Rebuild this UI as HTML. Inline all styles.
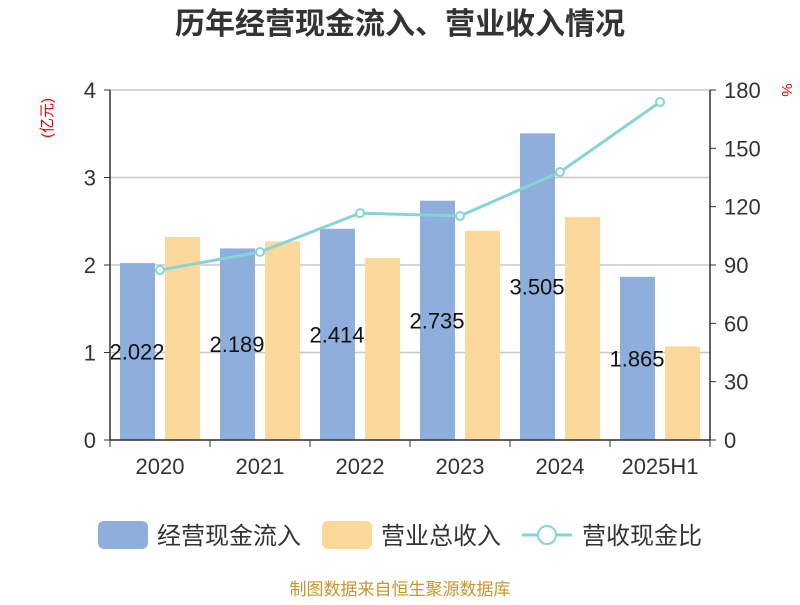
<!DOCTYPE html>
<html><head><meta charset="utf-8"><style>
body{margin:0;background:#fff;}
svg text{font-family:"Liberation Sans","Noto Sans CJK SC",sans-serif;}
</style></head><body>
<svg id="chart" width="800" height="600" xmlns="http://www.w3.org/2000/svg">
<text x="400" y="34" text-anchor="middle" font-size="30" font-weight="bold" fill="#333">历年经营现金流入、营业收入情况</text>
<text transform="translate(52,118) rotate(-90)" text-anchor="middle" font-size="15" fill="#e00">(亿元)</text>
<text transform="translate(782,90) rotate(90)" text-anchor="middle" font-size="15" fill="#e00">%</text>
<g id="grid"></g><g id="bars"></g><g id="line"></g><g id="axes"></g>
<g>
<rect x="98" y="521" width="50" height="28" rx="6" fill="#8eaedb"/>
<text x="157" y="544" font-size="24" fill="#333">经营现金流入</text>
<rect x="322" y="521" width="50" height="28" rx="6" fill="#fdd89b"/>
<text x="381" y="544" font-size="24" fill="#333">营业总收入</text>
<line x1="522" y1="535" x2="572" y2="535" stroke="#86d4d6" stroke-width="3"/>
<circle cx="547" cy="535" r="9" fill="#fff" stroke="#86d4d6" stroke-width="2"/>
<text x="582" y="544" font-size="24" fill="#333">营收现金比</text>
</g>
<text x="400" y="595" text-anchor="middle" font-size="17" fill="#c8962a">制图数据来自恒生聚源数据库</text>
</svg>
<script>
const categories=["2020","2021","2022","2023","2024","2025H1"];
const cashValues=[2.022,2.189,2.414,2.735,3.505,1.865];
const revenueValues=[2.32,2.27,2.08,2.39,2.55,1.07];
const ratioValues=[87.4,96.7,116.7,115.2,137.8,173.8];
const leftTicks=[0,1,2,3,4];
const rightTicks=[0,30,60,90,120,150,180];
const NS="http://www.w3.org/2000/svg";
const X0=110,X1=710,Y0=440,Y1=90;
const band=(X1-X0)/categories.length;
const yL=v=>Y0-(v/4)*(Y0-Y1);
const yR=v=>Y0-(v/180)*(Y0-Y1);
function mk(p,tag,at,txt){const e=document.createElementNS(NS,tag);for(const k in at)e.setAttribute(k,at[k]);if(txt!=null)e.textContent=txt;document.getElementById(p).appendChild(e);return e;}
leftTicks.forEach(t=>{
 const g=mk("grid","line",{x1:X0,x2:X1,y1:yL(t),y2:yL(t),stroke:"#c8c8c8","stroke-width":1.5});
 
 
 const l=mk("axes","text",{x:X0-14,y:yL(t)+8,"text-anchor":"end","font-size":22,fill:"#333"},t);
 
 
 const tk=mk("axes","line",{x1:X0-6,x2:X0,y1:yL(t),y2:yL(t),stroke:"#333"});
 
 
});
rightTicks.forEach(t=>{
 const l=mk("axes","text",{x:X1+14,y:yR(t)+8,"font-size":22,fill:"#333"},t);
 
 
 const tk=mk("axes","line",{x1:X1,x2:X1+6,y1:yR(t),y2:yR(t),stroke:"#333"});
 
 
});
categories.forEach((c,i)=>{
 const bx=X0+i*band;
 const b1=mk("bars","rect",{x:bx+10,y:yL(cashValues[i]),width:35,height:Y0-yL(cashValues[i]),fill:"#8eaedb"});
 
 
 const b2=mk("bars","rect",{x:bx+55,y:yL(revenueValues[i]),width:35,height:Y0-yL(revenueValues[i]),fill:"#fdd89b"});
 
 
 const v=mk("bars","text",{x:bx+27,y:(yL(cashValues[i])+Y0)/2+8,"text-anchor":"middle","font-size":22,fill:"#111"},cashValues[i].toFixed(3));
 
 
 const l=mk("axes","text",{x:bx+band/2,y:Y0+34,"text-anchor":"middle","font-size":22,fill:"#333"},c);
 
 
});
for(let i=0;i<=categories.length;i++){
 const tk=mk("axes","line",{x1:X0+i*band,x2:X0+i*band,y1:Y0,y2:Y0+7,stroke:"#333"});
 
 
}
const pts=ratioValues.map((v,i)=>[X0+i*band+band/2,yR(v)]);
const pl=mk("line","polyline",{points:pts.map(p=>p.join(",")).join(" "),fill:"none",stroke:"#86d4d6","stroke-width":3});


pts.forEach((p,i)=>{
 const c=mk("line","circle",{cx:p[0],cy:p[1],r:4,fill:"#fff",stroke:"#86d4d6","stroke-width":2});
 
 
});
[[X0,"left-axis-line"],[X1,"right-axis-line"]].forEach(a=>{
 const l=mk("axes","line",{x1:a[0],x2:a[0],y1:Y1,y2:Y0,stroke:"#333","stroke-width":1.5});
 
 
});
const xa=mk("axes","line",{x1:X0,x2:X1,y1:Y0,y2:Y0,stroke:"#333","stroke-width":1.5});


</script>
</body></html>
